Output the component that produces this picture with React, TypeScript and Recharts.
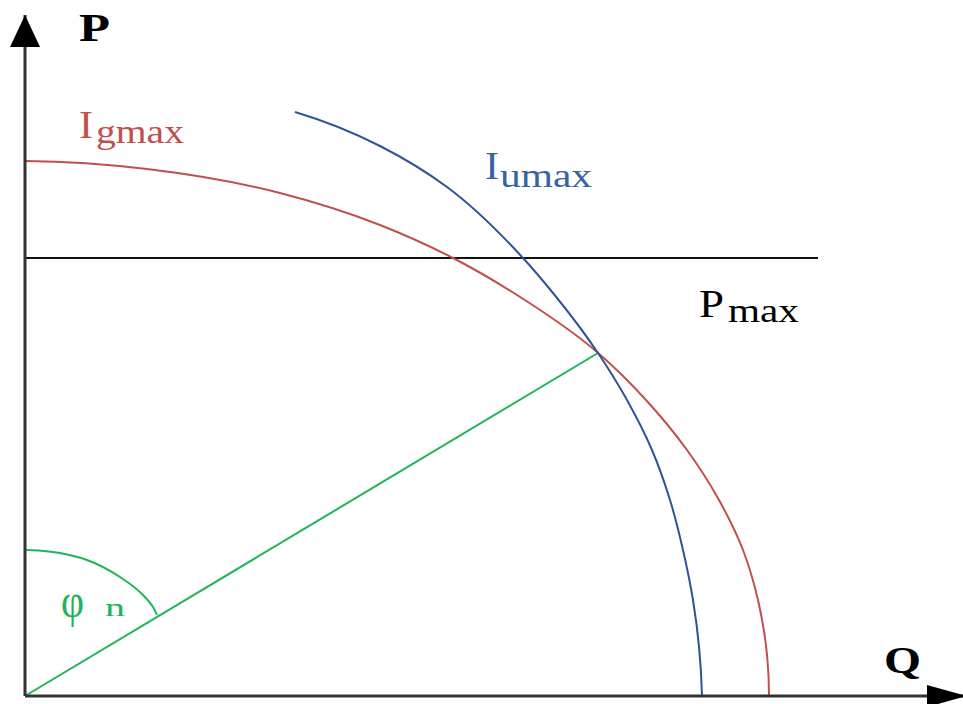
import React from 'react';

import { ComposedChart, Line, Scatter, XAxis, YAxis } from 'recharts';

// all values are Q / P (origin at the axes corner)
const qAxisMax = 938;
const pAxisMax = 681;

const igmaxCurve = [
  [0, 535], [122, 527], [255, 503], [355, 471], [428, 438], [492, 401], [572, 344],
  [621, 296], [662, 246], [694, 196], [718, 146], [733, 96], [744, 0],
];
const iumaxCurve = [
  [270, 584], [355, 550], [422, 509], [498, 438], [528, 403], [573, 343],
  [602, 296], [627, 246], [645, 196], [658, 146], [668, 96], [677, 0],
];
const pmaxLine = [[0, 438], [793, 438]];
const phiLine = [[0, 0], [573, 343]];
const phiArc = [[0, 146], [28, 144], [62, 136], [95, 119], [118, 101], [128, 89], [132, 81]];

const qArrowTip = [[qAxisMax, 0]];
const pArrowTip = [[0, pAxisMax]];

const toPoints = (pairs: number[][]) => pairs.map(([q, p]) => ({ q, p }));

const RED = '#c0504d';
const BLUE = '#2f5496';
const GREEN = '#20b359';
const AXIS = '#333333';
const FONT = '"Liberation Serif", "Times New Roman", serif';

const unit = (dx: number, dy: number) => {
  const l = Math.hypot(dx, dy) || 1;
  return [dx / l, dy / l];
};

// passes through every point, tangents taken from the neighbouring chords
// (plain monotone bends too sharply where the arcs get steep)
const arcCurve = (context: any) => {
  let pts: number[][] = [];
  return {
    areaStart() {},
    areaEnd() {},
    lineStart() {
      pts = [];
    },
    point(x: number, y: number) {
      pts.push([+x, +y]);
    },
    lineEnd() {
      const n = pts.length;
      if (!n) return;
      context.moveTo(pts[0][0], pts[0][1]);
      if (n === 2) {
        context.lineTo(pts[1][0], pts[1][1]);
        return;
      }
      const len: number[] = [];
      const dir: number[][] = [];
      for (let i = 0; i < n - 1; i++) {
        const dx = pts[i + 1][0] - pts[i][0];
        const dy = pts[i + 1][1] - pts[i][1];
        len.push(Math.hypot(dx, dy));
        dir.push(unit(dx, dy));
      }
      const tan: number[][] = new Array(n);
      for (let i = 1; i < n - 1; i++) {
        tan[i] = unit(dir[i - 1][0] * len[i] + dir[i][0] * len[i - 1], dir[i - 1][1] * len[i] + dir[i][1] * len[i - 1]);
      }
      const reflect = (t: number[], u: number[]) => {
        const d = t[0] * u[0] + t[1] * u[1];
        return [2 * d * u[0] - t[0], 2 * d * u[1] - t[1]];
      };
      tan[0] = reflect(tan[1], dir[0]);
      tan[n - 1] = reflect(tan[n - 2], dir[n - 2]);
      for (let i = 0; i < n - 1; i++) {
        const k = len[i] / 3;
        context.bezierCurveTo(
          pts[i][0] + tan[i][0] * k,
          pts[i][1] + tan[i][1] * k,
          pts[i + 1][0] - tan[i + 1][0] * k,
          pts[i + 1][1] - tan[i + 1][1] * k,
          pts[i + 1][0],
          pts[i + 1][1],
        );
      }
    },
  };
};

const ArrowRight = (props: any) => {
  const { cx, cy } = props;
  return <polygon points={`${cx + 4},${cy} ${cx - 36},${cy - 11} ${cx - 36},${cy + 11}`} fill="#000" />;
};

const ArrowUp = (props: any) => {
  const { cx, cy } = props;
  return <polygon points={`${cx},${cy} ${cx - 15},${cy + 32} ${cx + 15},${cy + 32}`} fill="#000" />;
};

const App: React.FC = (): JSX.Element => (
  <div style={{ position: 'absolute', left: 0, top: 0, background: '#fff' }}>
    <ComposedChart width={963} height={704} margin={{ top: 15, right: 0, bottom: 0, left: 0 }}>
      <XAxis
        type="number"
        dataKey="q"
        domain={[0, qAxisMax]}
        height={8}
        tick={false}
        tickLine={false}
        axisLine={{ stroke: AXIS, strokeWidth: 3 }}
      />
      <YAxis
        type="number"
        dataKey="p"
        domain={[0, pAxisMax]}
        width={25}
        tick={false}
        tickLine={false}
        axisLine={{ stroke: AXIS, strokeWidth: 3 }}
      />
      <Line data={toPoints(pmaxLine)} dataKey="p" type="linear" stroke="#111" strokeWidth={2} dot={false} isAnimationActive={false} />
      <Line data={toPoints(phiLine)} dataKey="p" type="linear" stroke={GREEN} strokeWidth={2} dot={false} isAnimationActive={false} />
      <Line data={toPoints(phiArc)} dataKey="p" type={arcCurve as any} stroke={GREEN} strokeWidth={2} dot={false} isAnimationActive={false} />
      <Line data={toPoints(igmaxCurve)} dataKey="p" type={arcCurve as any} stroke={RED} strokeWidth={2} dot={false} isAnimationActive={false} />
      <Line data={toPoints(iumaxCurve)} dataKey="p" type={arcCurve as any} stroke={BLUE} strokeWidth={2} dot={false} isAnimationActive={false} />
      <Scatter data={toPoints(qArrowTip)} dataKey="p" shape={ArrowRight} isAnimationActive={false} />
      <Scatter data={toPoints(pArrowTip)} dataKey="p" shape={ArrowUp} isAnimationActive={false} />

      <g fontFamily={FONT}>
        <text x={79} y={41} fontSize={40} fontWeight="bold" fill="#000" textLength={31} lengthAdjust="spacingAndGlyphs">P</text>
        <text x={884} y={673} fontSize={38} fontWeight="bold" fill="#000" textLength={37} lengthAdjust="spacingAndGlyphs">Q</text>

        <text x={79} y={138} fontSize={39} fill={RED} textLength={14} lengthAdjust="spacingAndGlyphs">I</text>
        <text x={96} y={143} fontSize={33} fill={RED} textLength={88} lengthAdjust="spacingAndGlyphs">gmax</text>

        <text x={485} y={179} fontSize={40} fill="#3762a3" textLength={14} lengthAdjust="spacingAndGlyphs">I</text>
        <text x={500} y={187} fontSize={33} fill="#3762a3" textLength={92} lengthAdjust="spacingAndGlyphs">umax</text>

        <text x={699} y={317} fontSize={40} fill="#000" textLength={25} lengthAdjust="spacingAndGlyphs">P</text>
        <text x={728} y={322} fontSize={33} fill="#000" textLength={71} lengthAdjust="spacingAndGlyphs">max</text>

        <text x={61} y={617} fontSize={48} fill={GREEN} textLength={23} lengthAdjust="spacingAndGlyphs">φ</text>
        <text x={105} y={616} fontSize={26} fill={GREEN} textLength={20} lengthAdjust="spacingAndGlyphs">n</text>
      </g>
    </ComposedChart>
  </div>
);

export default App;
